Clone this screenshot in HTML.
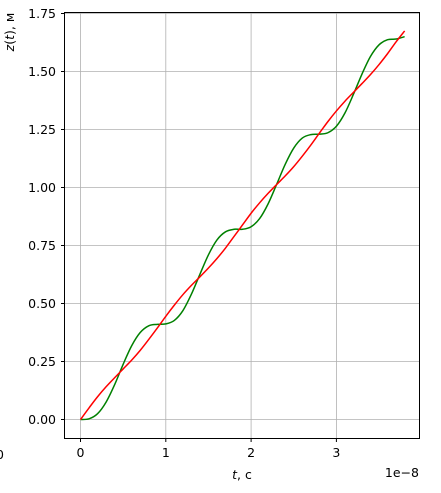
<!DOCTYPE html>
<html><head><meta charset="utf-8"><style>
body{margin:0;background:#fff;width:441px;height:488px;overflow:hidden}
svg text{font-family:"DejaVu Sans","Liberation Sans",sans-serif;font-size:12.5px;fill:#000}
</style></head><body>
<svg id="chart" width="441" height="488">
<g id="grid"></g>
<g id="series"></g>
<rect x="64.5" y="12.5" width="355" height="426" fill="none" stroke="#000" stroke-width="1"/>
<g id="ticks"></g>
<text x="242" y="479" text-anchor="middle"><tspan font-style="italic">t</tspan>, с</text>
<text x="419" y="477" text-anchor="end">1e−8</text>
<text transform="translate(14,32) rotate(-90)" text-anchor="middle"><tspan font-style="italic">z</tspan>(<tspan font-style="italic">t</tspan>), м</text>
<text x="-4" y="459">0</text>
</svg>
<script>
const tVals=[0,0.1,0.2,0.3,0.4,0.5,0.6,0.7,0.8,0.9,1.0,1.1,1.2,1.3,1.4,1.5,1.6,1.7,1.8,1.9,2.0,2.1,2.2,2.3,2.4,2.5,2.6,2.7,2.8,2.9,3.0,3.1,3.2,3.3,3.4,3.5,3.6,3.7,3.8];
const greenVals=[0,0.003,0.025,0.075,0.150,0.238,0.318,0.375,0.404,0.410,0.412,0.427,0.469,0.540,0.626,0.710,0.774,0.809,0.820,0.820,0.831,0.866,0.930,1.014,1.100,1.170,1.213,1.228,1.230,1.236,1.264,1.321,1.402,1.489,1.565,1.615,1.637,1.640,1.650];
const redVals=[0,0.050,0.098,0.141,0.180,0.218,0.256,0.298,0.345,0.394,0.445,0.493,0.538,0.578,0.615,0.653,0.694,0.739,0.789,0.839,0.889,0.934,0.975,1.013,1.050,1.090,1.135,1.183,1.234,1.284,1.330,1.372,1.410,1.448,1.487,1.530,1.577,1.628,1.675];
const xTicks=[0,1,2,3];
const yTicks=[0,0.25,0.5,0.75,1.0,1.25,1.5,1.75];
const yTickLabels=["0.00","0.25","0.50","0.75","1.00","1.25","1.50","1.75"];
const X=v=>80.5+v*85.3, Y=v=>419.5-v*232;
const NS="http://www.w3.org/2000/svg";
const grid=document.getElementById('grid'),ticks=document.getElementById('ticks'),ser=document.getElementById('series');
function mk(tag,attrs,parent){const e=document.createElementNS(NS,tag);for(const k in attrs)e.setAttribute(k,attrs[k]);parent.appendChild(e);return e;}
xTicks.forEach(v=>{
 const g=mk('line',{x1:X(v),x2:X(v),y1:12.5,y2:438.5,stroke:'#b0b0b0','stroke-width':0.8},grid);
 
 
 const t=mk('line',{x1:X(v),x2:X(v),y1:438.5,y2:442,stroke:'#000'},ticks);
 
 
 const l=mk('text',{x:X(v),y:457,'text-anchor':'middle'},ticks);l.textContent=v;
 
 
});
yTicks.forEach((v,i)=>{
 const g=mk('line',{x1:64.5,x2:419.5,y1:Y(v),y2:Y(v),stroke:'#b0b0b0','stroke-width':0.8},grid);
 
 
 const t=mk('line',{x1:61,x2:64.5,y1:Y(v),y2:Y(v),stroke:'#000'},ticks);
 
 
 const l=mk('text',{x:56,y:Y(v)+4.5,'text-anchor':'end'},ticks);l.textContent=yTickLabels[i];
 
 
});
function path(vals){
 const p=tVals.map((t,i)=>[X(t),Y(vals[i])]);
 let d='M'+p[0][0]+','+p[0][1];
 for(let i=0;i<p.length-1;i++){
  const p0=p[Math.max(0,i-1)],p1=p[i],p2=p[i+1],p3=p[Math.min(p.length-1,i+2)];
  d+=' C'+(p1[0]+(p2[0]-p0[0])/6)+','+(p1[1]+(p2[1]-p0[1])/6)+' '+(p2[0]-(p3[0]-p1[0])/6)+','+(p2[1]-(p3[1]-p1[1])/6)+' '+p2[0]+','+p2[1];
 }
 return d;
}
const g1=mk('path',{d:path(greenVals),fill:'none',stroke:'#008000','stroke-width':1.5},ser);


const r1=mk('path',{d:path(redVals),fill:'none',stroke:'#ff0000','stroke-width':1.5},ser);


</script>
</body></html>
